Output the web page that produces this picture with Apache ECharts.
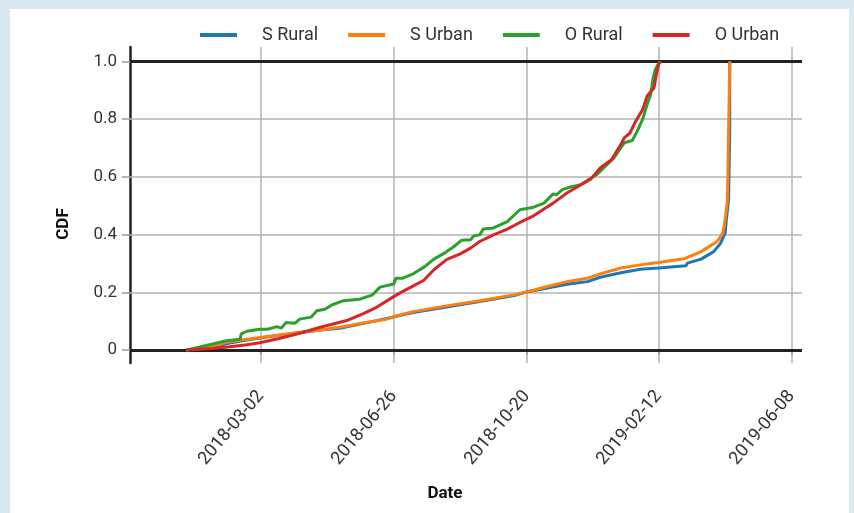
<!DOCTYPE html>
<html>
<head>
<meta charset="utf-8">
<script src="https://cdn.jsdelivr.net/npm/echarts@6/dist/echarts.min.js"></script>
<style>
	html, body { margin: 0; padding: 0; background: #dbe9f3; }
	#panel { position: absolute; left: 10px; top: 9px; width: 839px; height: 504px; background: #fff; }
	#chart { position: absolute; left: 0; top: 0; width: 854px; height: 513px; }
</style>
</head>
<body>
<div id="panel"></div>
<div id="chart"></div>
<script>
// x values are days counted from 2018-03-02
const startDate = Date.UTC(2018, 2, 2)
const dateTicks = [0, 116, 232, 347, 463]
const cdfTicks = [0, 0.2, 0.4, 0.6, 0.8, 1.0]

const sRuralDay = [-65, -42, -27, -12, 5, 28, 52, 69, 92, 110, 122, 133, 162, 191, 221, 231, 250, 267, 285, 296, 314, 331, 347, 371, 372, 384, 395, 401, 405, 406, 408, 409, 409]
const sRuralCdf = [0, 0.010, 0.024, 0.035, 0.045, 0.057, 0.069, 0.075, 0.094, 0.109, 0.120, 0.130, 0.149, 0.168, 0.189, 0.200, 0.215, 0.228, 0.237, 0.252, 0.268, 0.280, 0.284, 0.292, 0.301, 0.315, 0.341, 0.370, 0.405, 0.451, 0.521, 0.764, 1.0]

const sUrbanDay = [-65, -42, -27, -12, 5, 28, 52, 69, 92, 110, 116, 133, 162, 191, 221, 231, 250, 267, 285, 296, 314, 331, 347, 369, 384, 398, 403, 405, 407, 408, 409]
const sUrbanCdf = [0, 0.014, 0.029, 0.037, 0.046, 0.058, 0.069, 0.079, 0.095, 0.107, 0.116, 0.133, 0.153, 0.171, 0.191, 0.200, 0.220, 0.237, 0.249, 0.264, 0.284, 0.295, 0.303, 0.316, 0.341, 0.376, 0.405, 0.451, 0.521, 0.764, 1.0]

const oRuralDay = [-64, -53, -42, -30, -18, -17, -12, -1, 6, 14, 18, 22, 30, 34, 44, 49, 56, 62, 72, 86, 97, 104, 116, 118, 124, 133, 143, 151, 159, 168, 175, 183, 186, 191, 194, 203, 215, 226, 238, 247, 255, 258, 263, 270, 279, 285, 293, 299, 308, 317, 324, 328, 333, 337, 340, 342, 344, 348]
const oRuralCdf = [0, 0.011, 0.021, 0.032, 0.037, 0.056, 0.065, 0.072, 0.072, 0.081, 0.076, 0.095, 0.093, 0.107, 0.114, 0.136, 0.141, 0.156, 0.171, 0.176, 0.190, 0.218, 0.229, 0.249, 0.249, 0.264, 0.289, 0.315, 0.333, 0.357, 0.380, 0.382, 0.396, 0.399, 0.419, 0.423, 0.445, 0.486, 0.495, 0.509, 0.541, 0.538, 0.556, 0.565, 0.573, 0.588, 0.608, 0.631, 0.666, 0.718, 0.726, 0.756, 0.799, 0.851, 0.885, 0.938, 0.972, 1.0]

const oUrbanDay = [-65, -42, -27, -12, -1, 17, 34, 52, 75, 89, 101, 116, 122, 133, 142, 151, 162, 174, 183, 191, 203, 215, 226, 238, 247, 255, 267, 276, 288, 296, 306, 314, 317, 322, 327, 333, 337, 343, 345, 347, 349]
const oUrbanCdf = [0, 0.005, 0.011, 0.018, 0.025, 0.041, 0.058, 0.079, 0.102, 0.125, 0.148, 0.185, 0.199, 0.222, 0.241, 0.278, 0.313, 0.333, 0.353, 0.376, 0.399, 0.419, 0.442, 0.465, 0.489, 0.509, 0.544, 0.565, 0.593, 0.631, 0.660, 0.712, 0.735, 0.752, 0.793, 0.833, 0.880, 0.909, 0.955, 0.990, 1.0]

const seriesNames = ['S Rural', 'S Urban', 'O Rural', 'O Urban']
const seriesColors = ['#1f77b4', '#ff7f0e', '#2ca02c', '#d62728']

function pairs(xs, ys) {
	return xs.map((x, i) => [x, ys[i]])
}

function dayLabel(d) {
	const t = new Date(startDate + d * 86400000)
	return t.toISOString().slice(0, 10)
}

const chart = echarts.init(document.getElementById('chart'), null, { renderer: 'canvas' })

const lineSeries = [
	pairs(sRuralDay, sRuralCdf),
	pairs(sUrbanDay, sUrbanCdf),
	pairs(oRuralDay, oRuralCdf),
	pairs(oUrbanDay, oUrbanCdf)
].map((data, i) => ({
	name: seriesNames[i],
	type: 'line',
	data,
	showSymbol: false,
	symbol: 'none',
	z: 5,
	lineStyle: { color: seriesColors[i], width: 3 },
	itemStyle: { color: seriesColors[i] }
}))

// gridlines along y, with the 0 and 1 lines in black
const gridLines = {
	type: 'line',
	data: [],
	z: 2,
	silent: true,
	markLine: {
		silent: true,
		symbol: 'none',
		label: { show: false },
		animation: false,
		data: cdfTicks.map(v => ({
			yAxis: v,
			lineStyle: {
				type: 'solid',
				color: (v === 0 || v === 1) ? '#222' : '#b3b3b3',
				width: (v === 0 || v === 1) ? 3 : 1.5
			}
		}))
	}
}

const option = {
	animation: false,
	textStyle: { fontFamily: 'Roboto' },
	legend: {
		data: seriesNames,
		left: 195,
		top: 21,
		icon: 'rect',
		itemWidth: 37,
		itemHeight: 4,
		itemGap: 30,
		textStyle: { fontSize: 18, color: '#333', padding: [0, 0, 0, 20] }
	},
	grid: { left: 130, right: 52, top: 47, bottom: 150 },
	xAxis: {
		type: 'value',
		min: -114,
		max: 472,
		name: 'Date',
		nameLocation: 'middle',
		nameGap: 122,
		nameTextStyle: { fontSize: 17, fontWeight: 'bold', color: '#111', padding: [0, 42, 0, 0] },
		axisLine: { show: false },
		axisTick: { show: true, customValues: dateTicks, length: 5, lineStyle: { color: '#999', width: 1.5 } },
		axisLabel: {
			customValues: dateTicks,
			rotate: 50,
			margin: 30,
			fontSize: 18,
			color: '#333',
			formatter: v => dayLabel(v)
		},
		splitLine: { show: true, lineStyle: { color: '#b3b3b3', width: 1.5 } }
	},
	yAxis: {
		type: 'value',
		min: -0.045,
		max: 1.05,
		name: 'CDF',
		nameLocation: 'middle',
		nameGap: 58,
		nameTextStyle: { fontSize: 17, fontWeight: 'bold', color: '#111', padding: [0, 38, 0, 0] },
		axisLine: { show: true, onZero: false, lineStyle: { color: '#222', width: 2.5 } },
		axisTick: { show: true, customValues: cdfTicks, length: 8, lineStyle: { color: '#999', width: 1.5 } },
		axisLabel: {
			customValues: cdfTicks,
			margin: 13,
			fontSize: 17,
			color: '#333',
			formatter: v => v === 0 ? '0' : v.toFixed(1)
		},
		splitLine: { show: false }
	},
	series: [gridLines].concat(lineSeries)
}

chart.setOption(option)
</script>
</body>
</html>
